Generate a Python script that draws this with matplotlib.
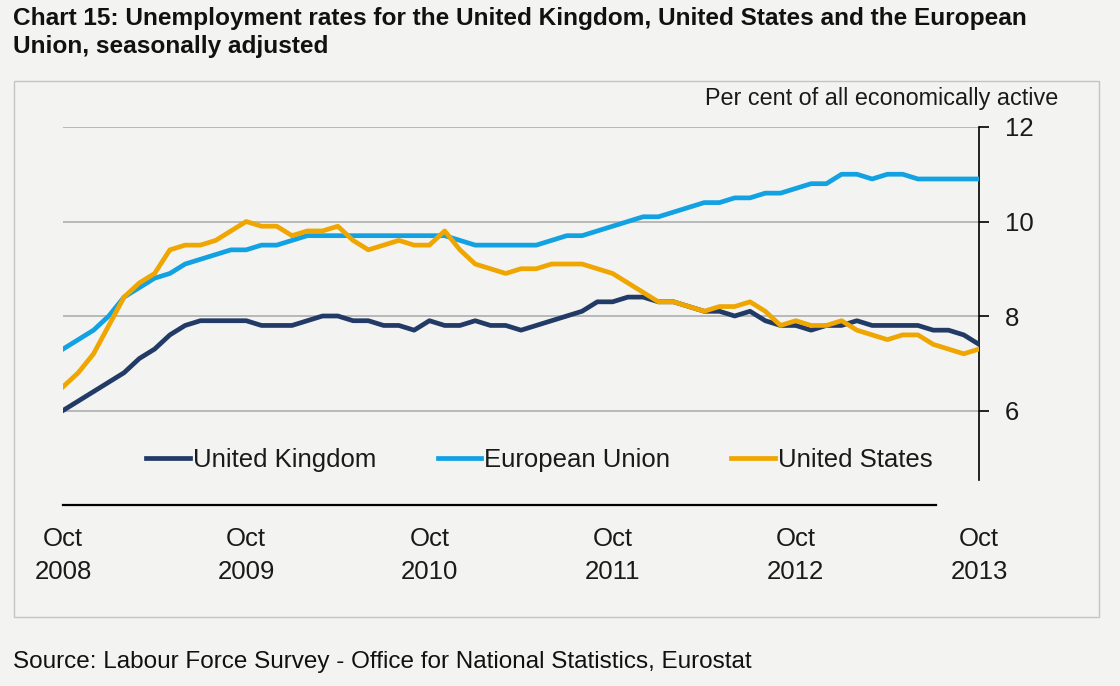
import matplotlib
matplotlib.use("Agg")
import matplotlib.pyplot as plt
import numpy as np

# Monthly data, Oct 2008 - Oct 2013 (per cent, seasonally adjusted)
uk = [6.0, 6.2, 6.4, 6.6, 6.8, 7.1, 7.3, 7.6, 7.8, 7.9, 7.9, 7.9, 7.9, 7.8, 7.8, 7.8,
      7.9, 8.0, 8.0, 7.9, 7.9, 7.8, 7.8,
      7.7, 7.9, 7.8, 7.8, 7.9, 7.8, 7.8, 7.7, 7.8, 7.9, 8.0, 8.1, 8.3, 8.3, 8.4, 8.4,
      8.3, 8.3, 8.2,
      8.1, 8.1, 8.0, 8.1, 7.9, 7.8, 7.8, 7.7, 7.8, 7.8, 7.9, 7.8, 7.8, 7.8, 7.8, 7.7,
      7.7, 7.6, 7.4]
eu = [7.3, 7.5, 7.7, 8.0, 8.4, 8.6, 8.8, 8.9, 9.1, 9.2, 9.3, 9.4, 9.4, 9.5, 9.5, 9.6,
      9.7, 9.7, 9.7, 9.7, 9.7, 9.7, 9.7,
      9.7, 9.7, 9.7, 9.6, 9.5, 9.5, 9.5, 9.5, 9.5, 9.6, 9.7, 9.7, 9.8, 9.9, 10.0, 10.1,
      10.1, 10.2, 10.3,
      10.4, 10.4, 10.5, 10.5, 10.6, 10.6, 10.7, 10.8, 10.8, 11.0, 11.0, 10.9, 11.0, 11.0,
      10.9, 10.9, 10.9, 10.9, 10.9]
us = [6.5, 6.8, 7.2, 7.8, 8.4, 8.7, 8.9, 9.4, 9.5, 9.5, 9.6, 9.8, 10.0, 9.9, 9.9, 9.7,
      9.8, 9.8, 9.9, 9.6, 9.4, 9.5, 9.6,
      9.5, 9.5, 9.8, 9.4, 9.1, 9.0, 8.9, 9.0, 9.0, 9.1, 9.1, 9.1, 9.0, 8.9, 8.7, 8.5,
      8.3, 8.3, 8.2,
      8.1, 8.2, 8.2, 8.3, 8.1, 7.8, 7.9, 7.8, 7.8, 7.9, 7.7, 7.6, 7.5, 7.6, 7.6, 7.4,
      7.3, 7.2, 7.3]
tick_labels = ["Oct\n2008", "Oct\n2009", "Oct\n2010", "Oct\n2011", "Oct\n2012", "Oct\n2013"]
y_ticks = [6, 8, 10, 12]
series_names = ["United Kingdom", "European Union", "United States"]

BG = "#f3f3f1"
FONT = "Liberation Sans"

fig = plt.figure(figsize=(11.2, 6.86), dpi=100, facecolor=BG)

# chart frame
frame = plt.Rectangle((14 / 1120, 1 - 617 / 686), (1099 - 14) / 1120, (617 - 81) / 686,
                      transform=fig.transFigure, facecolor=BG, edgecolor="#c4c4c4",
                      linewidth=1.0, zorder=-5)
fig.patches.append(frame)

ax = fig.add_axes([63 / 1120, 1 - 505 / 686, (979 - 63) / 1120, (505 - 127) / 686])
ax.set_zorder(2)
ax.set_facecolor("none")

x = np.arange(len(uk))
ax.plot(x, uk, color="#213a66", lw=3.4, label=series_names[0], solid_joinstyle="round", zorder=3)
ax.plot(x, eu, color="#12a2e2", lw=3.4, label=series_names[1], solid_joinstyle="round", zorder=3)
ax.plot(x, us, color="#efa600", lw=3.4, label=series_names[2], solid_joinstyle="round", zorder=4)

ax.set_xlim(0, len(uk) - 1)
ax.set_ylim(4, 12)

for yv in y_ticks:
    ax.axhline(yv, color="#a8a8a8", lw=1.1, zorder=1)

ax.spines["top"].set_visible(False)
ax.spines["left"].set_visible(False)
ax.spines["right"].set_color("black")
ax.spines["right"].set_linewidth(1.2)
ax.spines["right"].set_bounds(4.53, 12)
ax.spines["bottom"].set_color("black")
ax.spines["bottom"].set_linewidth(1.6)
ax.spines["bottom"].set_bounds(0, 57.2)

ax.yaxis.tick_right()
ax.set_yticks(y_ticks)
ax.set_yticklabels([str(v) for v in y_ticks])
ax.tick_params(axis="y", direction="out", length=7.5, width=1.2, pad=11,
               labelsize=18.5, labelcolor="#1a1a1a")
for lab in ax.get_yticklabels():
    lab.set_fontfamily(FONT)

ax.set_xticks(np.arange(0, len(uk), 12))
ax.set_xticklabels(tick_labels)
ax.tick_params(axis="x", length=0, pad=16, labelsize=18.5, labelcolor="#1a1a1a")
for lab in ax.get_xticklabels():
    lab.set_fontfamily(FONT)
    lab.set_linespacing(1.45)

leg = ax.legend(loc="center", bbox_to_anchor=(0.52, 0.118), ncol=3, frameon=False,
                handlelength=1.7, handletextpad=0.1, columnspacing=2.4,
                prop={"family": FONT, "size": 18.5})
for t in leg.get_texts():
    t.set_color("#1a1a1a")

fig.text(1058 / 1120, 1 - 99 / 686, "Per cent of all economically active", ha="right",
         va="center", fontsize=16.8, family=FONT, color="#1a1a1a")

fig.text(13 / 1120, 1 - 18 / 686,
         "Chart 15: Unemployment rates for the United Kingdom, United States and the European",
         ha="left", va="center", fontsize=17.6, fontweight="bold", family=FONT, color="#111111")
fig.text(13 / 1120, 1 - 47 / 686, "Union, seasonally adjusted",
         ha="left", va="center", fontsize=17.6, fontweight="bold", family=FONT, color="#111111")

fig.text(13 / 1120, 1 - 662 / 686,
         "Source: Labour Force Survey - Office for National Statistics, Eurostat",
         ha="left", va="center", fontsize=17.5, family=FONT, color="#111111")

fig.savefig("out.png", dpi=100, facecolor=BG)
